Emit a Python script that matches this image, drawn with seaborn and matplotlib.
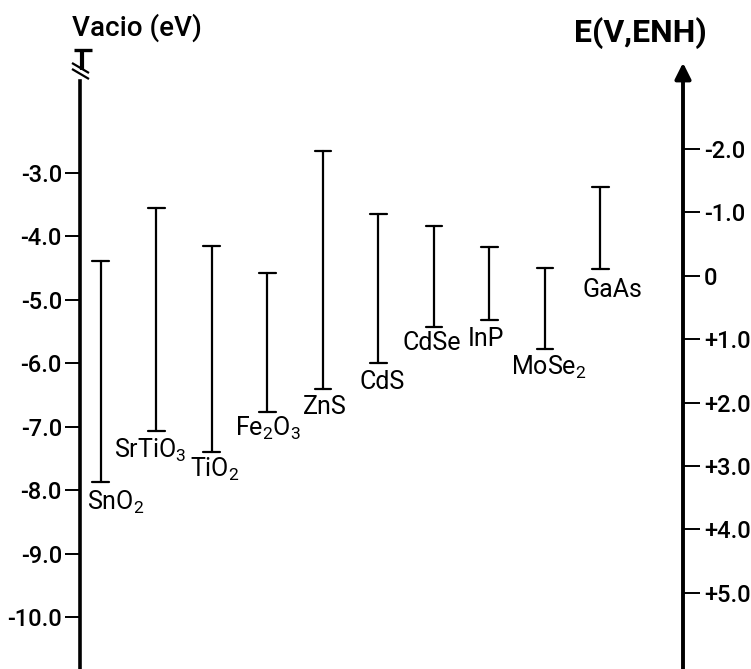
import numpy as np
import pandas as pd
import matplotlib
matplotlib.use("Agg")
import matplotlib.pyplot as plt
import seaborn as sns

# ---- data (energies vs vacuum, eV) ----
materials = ["SnO2", "SrTiO3", "TiO2", "Fe2O3", "ZnS", "CdS", "CdSe", "InP", "MoSe2", "GaAs"]
labels = ["SnO$\\mathregular{_2}$", "SrTiO$\\mathregular{_3}$", "TiO$\\mathregular{_2}$",
          "Fe$\\mathregular{_2}$O$\\mathregular{_3}$", "ZnS", "CdS", "CdSe", "InP",
          "MoSe$\\mathregular{_2}$", "GaAs"]
conduction_band = [-4.39, -3.55, -4.15, -4.58, -2.65, -3.65, -3.84, -4.16, -4.50, -3.22]
valence_band = [-7.87, -7.07, -7.40, -6.77, -6.41, -6.00, -5.43, -5.32, -5.78, -4.52]
left_ticks = [-3.0, -4.0, -5.0, -6.0, -7.0, -8.0, -9.0, -10.0]
left_ticklabels = ["-3.0", "-4.0", "-5.0", "-6.0", "-7.0", "-8.0", "-9.0", "-10.0"]
right_ticks = [-2.0, -1.0, 0.0, 1.0, 2.0, 3.0, 4.0, 5.0]
right_ticklabels = ["-2.0", "-1.0", "0", "+1.0", "+2.0", "+3.0", "+4.0", "+5.0"]
nhe_offset = 4.62  # E(vac) = -offset - E(NHE)

# ---- layout (label positions relative to bars) ----
label_dx = [0.26, -0.11, 0.06, 0.01, 0.04, 0.07, -0.03, -0.06, 0.07, 0.21]
label_y = [-8.19, -7.37, -7.68, -7.02, -6.69, -6.29, -5.68, -5.62, -6.07, -4.84]

df = pd.DataFrame({
    "material": materials * 2,
    "E": conduction_band + valence_band,
})

sns.set_style("white")
FONT = ["Roboto", "DejaVu Sans"]
plt.rcParams["font.family"] = FONT
plt.rcParams["mathtext.fontset"] = "custom"
plt.rcParams["mathtext.rm"] = "Roboto"
plt.rcParams["text.color"] = "black"
plt.rcParams["axes.edgecolor"] = "black"
plt.rcParams["ytick.color"] = "black"
plt.rcParams["ytick.labelcolor"] = "black"

fig = plt.figure(figsize=(7.51, 6.69), dpi=100)
ax = fig.add_axes([80 / 751, 0.0, (683 - 80) / 751, 1 - 50 / 669])

sns.pointplot(data=df, x="material", y="E", order=materials,
              errorbar=("pi", 100), capsize=0.3, color="black",
              linestyle="none", marker="", err_kws={"linewidth": 1.6},
              ax=ax)

ax.set_xlim(-0.373, 10.486)
ax.set_ylim(-10.82, -1.06)
ax.set_xticks([])
ax.set_xlabel("")
ax.set_ylabel("")

for s in ["top", "bottom"]:
    ax.spines[s].set_visible(False)
ax.spines["left"].set_linewidth(2.6)
ax.spines["left"].set_bounds(-10.82, -1.55)
ax.spines["right"].set_linewidth(2.8)
ax.spines["right"].set_bounds(-10.82, -1.45)

ax.set_yticks(left_ticks)
ax.set_yticklabels(left_ticklabels, fontsize=17, fontweight="medium")
ax.tick_params(axis="y", direction="out", length=11, width=1.4, pad=2, left=True)

ax2 = ax.twinx()
ax2.set_ylim(ax.get_ylim())
for s in ["top", "bottom", "left", "right"]:
    ax2.spines[s].set_visible(False)
ax2.set_yticks([-nhe_offset - v for v in right_ticks])
ax2.set_yticklabels(right_ticklabels, fontsize=17, fontweight="medium")
ax2.tick_params(axis="y", direction="out", length=12, width=1.4, pad=3, right=True)

# bar labels
for i, (lab, dx, ly) in enumerate(zip(labels, label_dx, label_y)):
    ax.text(i + dx, ly, lab, ha="center", va="center", fontsize=18)

# axis titles
fig.text(72 / 751, 1 - 28 / 669, "Vacio (eV)", ha="left", va="center", fontsize=20,
         fontweight="medium")
fig.text(640 / 751, 1 - 33 / 669, "E(V,ENH)", ha="center", va="center", fontsize=23,
         fontweight="bold")

# left axis break symbol
tr = ax.transAxes
def px(x, y):
    return ((x - 80) / (683 - 80), (669 - y) / (669 - 50))
for (x0, y0, x1, y1, lw) in [(74, 50, 92, 50, 2.4), (82, 50, 82, 70, 3.0),
                              (72, 63, 89, 73, 1.6), (72, 69, 89, 79, 1.6)]:
    a = px(x0, y0); b = px(x1, y1)
    ax.plot([a[0], b[0]], [a[1], b[1]], color="black", lw=lw, transform=tr,
            clip_on=False, solid_capstyle="butt")
# right arrow
a = px(683, 80); b = px(683, 60)
ax.annotate("", xy=b, xytext=a, xycoords=tr, textcoords=tr,
            arrowprops=dict(arrowstyle="-|>", color="black", lw=2.8,
                            mutation_scale=24))

fig.savefig("out.png", dpi=100)
